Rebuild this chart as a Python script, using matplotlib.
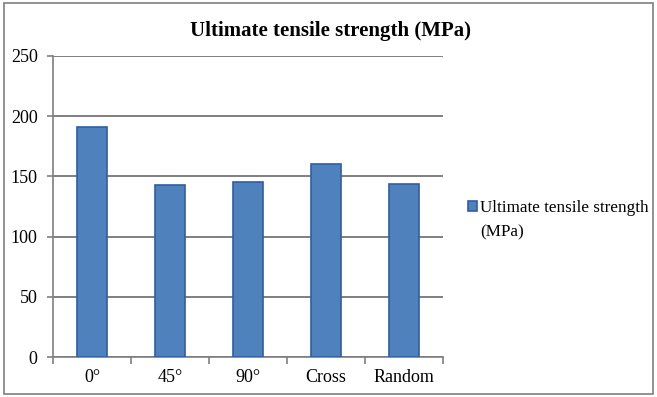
import matplotlib.pyplot as plt
from matplotlib.patches import Rectangle
import numpy as np

plt.rcParams['font.family'] = ['Liberation Serif', 'DejaVu Serif']

categories = ["0°", "45°", "90°", "Cross", "Random"]
uts = [191, 143, 145, 160, 144]
series_name = "Ultimate tensile strength"
series_unit = "(MPa)"
yticks = [0, 50, 100, 150, 200, 250]

fig = plt.figure(figsize=(6.57, 3.97), dpi=100)
ax = fig.add_axes([53 / 657, 40 / 397, 390 / 657, 301 / 397])

x = np.arange(len(categories))
ax.bar(x, uts, width=0.385, color="#4F81BD", edgecolor="#2E5FA6", linewidth=1.2,
       label=series_name, zorder=3)

ax.set_xlim(-0.5, len(categories) - 0.5)
ax.set_ylim(0, 250)
ax.set_yticks(yticks)
ax.yaxis.grid(True, color="#7f7f7f", linewidth=1.4, zorder=0)
ax.set_axisbelow(True)

# ticks between categories on the x axis
ax.set_xticks(np.arange(-0.5, len(categories)), minor=False)
ax.set_xticklabels([])
ax.set_xticks(x, minor=True)
ax.set_xticklabels(categories, minor=True, fontsize=13)
ax.tick_params(axis="x", which="major", length=5, color="#7f7f7f", width=1.2, direction="out")
ax.tick_params(axis="x", which="minor", length=0, pad=9)
ax.tick_params(axis="y", length=4, color="#7f7f7f", width=1.2, labelsize=13, pad=7)

for s in ["top", "right"]:
    ax.spines[s].set_visible(False)
for s in ["left", "bottom"]:
    ax.spines[s].set_color("#7f7f7f")
    ax.spines[s].set_linewidth(1.2)

fig.text(330 / 657, 1 - 31 / 397, "Ultimate tensile strength (MPa)", ha="center", va="center",
         fontsize=15, fontweight="bold")

# legend: marker sits on the first line, unit wraps to the second line
fig.legend(loc="center left", bbox_to_anchor=(468 / 657, 1 - 208 / 397), frameon=False,
           fontsize=12.3, handlelength=0.5, handleheight=0.5, handletextpad=0.2,
           borderpad=0, borderaxespad=0)
fig.text(480 / 657, 1 - 232 / 397, series_unit, ha="left", va="center", fontsize=12.3)

fig.patches.append(Rectangle((4 / 657, 3 / 397), 649 / 657, 391 / 397, transform=fig.transFigure,
                             fill=False, edgecolor="#7f7f7f", linewidth=1.2))

fig.savefig("out.png", dpi=100)
